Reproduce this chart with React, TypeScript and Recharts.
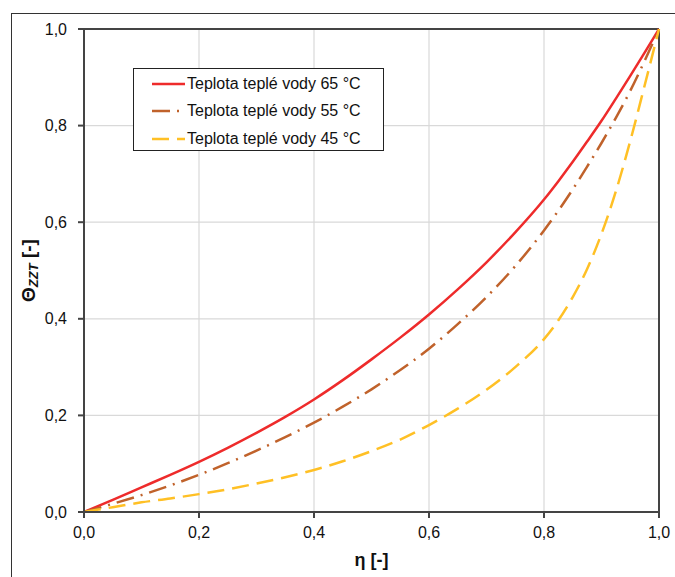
import { LineChart, Line, XAxis, YAxis, CartesianGrid, Legend, ReferenceLine } from 'recharts';

// relative flow η and dimensionless temperature Θ_ZZT
const eta = [0, 0.05, 0.1, 0.15, 0.2, 0.25, 0.3, 0.35, 0.4, 0.45, 0.5, 0.55, 0.6, 0.65, 0.7, 0.75, 0.8, 0.825, 0.85, 0.875, 0.9, 0.925, 0.95, 0.975, 1];
const theta65 = [0, 0.025, 0.051, 0.077, 0.104, 0.133, 0.164, 0.197, 0.233, 0.273, 0.316, 0.361, 0.409, 0.461, 0.517, 0.579, 0.647, 0.685, 0.725, 0.767, 0.81, 0.856, 0.903, 0.951, 1];
const theta55 = [0, 0.017, 0.035, 0.055, 0.077, 0.101, 0.127, 0.155, 0.185, 0.218, 0.254, 0.294, 0.338, 0.389, 0.445, 0.509, 0.583, 0.624, 0.668, 0.715, 0.764, 0.816, 0.872, 0.934, 1];
const theta45 = [0, 0.01, 0.02, 0.028, 0.037, 0.047, 0.059, 0.072, 0.087, 0.105, 0.126, 0.15, 0.18, 0.214, 0.253, 0.3, 0.358, 0.397, 0.445, 0.503, 0.576, 0.664, 0.768, 0.883, 1];

const ticks = [0, 0.2, 0.4, 0.6, 0.8, 1];

const seriesNames = ['Teplota teplé vody 65 °C', 'Teplota teplé vody 55 °C', 'Teplota teplé vody 45 °C'];
const seriesKeys = ['t65', 't55', 't45'];
const seriesColors = ['#EE2B2B', '#C0622B', '#FFC025'];
const seriesDash = [undefined, '18 7 2 7', '17 8'];

const data = eta.map((x, i) => ({
  eta: x,
  t65: theta65[i],
  t55: theta55[i],
  t45: theta45[i],
}));

const FONT = '"Liberation Sans", Arial, sans-serif';
const fmt = (v: number) => v.toFixed(1).replace('.', ',');

function LegendBox() {
  return (
    <div
      style={{
        border: '1.5px solid #222',
        background: '#fff',
        width: 251,
        height: 83,
        boxSizing: 'border-box',
        fontFamily: FONT,
        fontSize: 16,
        color: '#111',
        paddingTop: 1,
      }}
    >
      {seriesNames.map((name, i) => (
        <div key={name} style={{ display: 'flex', alignItems: 'center', height: 27.5, paddingLeft: 18 }}>
          <svg width={33} height={10} style={{ marginRight: 2 }}>
            <line
              x1={0}
              y1={5}
              x2={33}
              y2={5}
              stroke={seriesColors[i]}
              strokeWidth={2.5}
              strokeDasharray={seriesDash[i]}
            />
          </svg>
          <span>{name}</span>
        </div>
      ))}
    </div>
  );
}

export default function App() {
  return (
    <div style={{ position: 'absolute', left: 0, top: 0, width: 675, height: 577, overflow: 'hidden', background: '#fff' }}>
      <div
        style={{
          position: 'absolute',
          left: 11,
          top: 13,
          width: 700,
          height: 600,
          border: '1.5px solid #333',
        }}
      />
      <LineChart
        width={675}
        height={577}
        data={data}
        margin={{ top: 29, right: 16, left: 24, bottom: 15 }}
        style={{ position: 'absolute', left: 0, top: 0, fontFamily: FONT }}
      >
        <CartesianGrid stroke="#d9d9d9" strokeWidth={1.2} />
        <XAxis
          dataKey="eta"
          type="number"
          domain={[0, 1]}
          ticks={ticks}
          tickFormatter={fmt}
          height={50}
          stroke="#444"
          strokeWidth={2}
          tickSize={6}
          tickMargin={9}
          tick={{ fill: '#111', fontSize: 16 }}
          label={{ value: 'η [-]', position: 'insideBottom', offset: -4, fill: '#111', fontSize: 18, fontWeight: 'bold' }}
        />
        <YAxis
          type="number"
          domain={[0, 1]}
          ticks={ticks}
          tickFormatter={fmt}
          width={60}
          stroke="#444"
          strokeWidth={2}
          tickSize={6}
          tickMargin={11}
          tick={{ fill: '#111', fontSize: 16 }}
          label={(props: any) => {
            const vb = props.viewBox;
            const cy = vb.y + vb.height / 2;
            const cx = 28;
            return (
              <text
                x={cx}
                y={cy}
                transform={`rotate(-90 ${cx} ${cy})`}
                textAnchor="middle"
                dominantBaseline="central"
                fill="#111"
                fontSize={19}
                fontWeight="bold"
                fontFamily={FONT}
              >
                <tspan>Θ</tspan>
                <tspan fontSize={13} fontStyle="italic" dy={5}>ZZT</tspan>
                <tspan dy={-5}> [-]</tspan>
              </text>
            );
          }}
        />
        <ReferenceLine y={1} stroke="#444" strokeWidth={2} />
        <ReferenceLine x={1} stroke="#444" strokeWidth={2} />
        <Legend
          verticalAlign="middle"
          align="center"
          layout="horizontal"
          wrapperStyle={{ position: 'absolute', left: 133, top: 68, width: 251, height: 83 }}
          content={() => <LegendBox />}
        />
        {seriesKeys.map((k, i) => (
          <Line
            key={k}
            dataKey={k}
            name={seriesNames[i]}
            type="monotone"
            stroke={seriesColors[i]}
            strokeWidth={2.5}
            strokeDasharray={seriesDash[i]}
            dot={false}
            activeDot={false}
            isAnimationActive={false}
          />
        ))}
      </LineChart>
    </div>
  );
}
